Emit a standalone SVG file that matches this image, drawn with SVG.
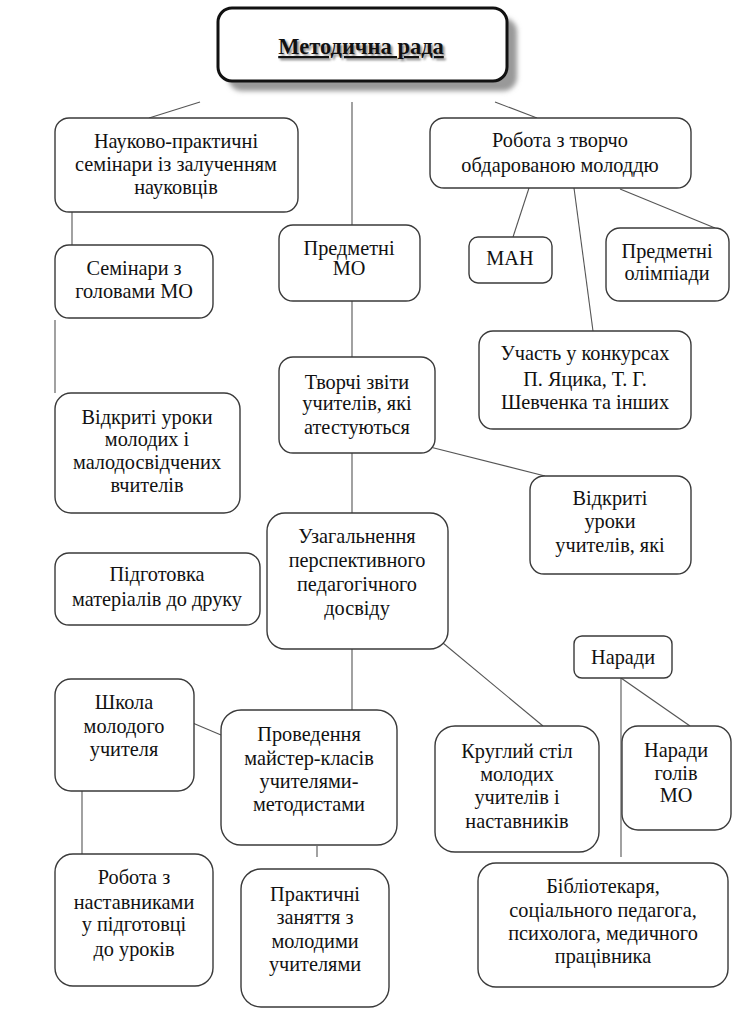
<svg xmlns="http://www.w3.org/2000/svg" width="750" height="1018" viewBox="0 0 750 1018">
<defs>
<filter id="blur" x="-10%" y="-10%" width="130%" height="140%"><feGaussianBlur stdDeviation="2.5"/></filter>
<filter id="tblur" x="-10%" y="-30%" width="120%" height="160%"><feGaussianBlur stdDeviation="0.8"/></filter>
</defs>
<style>
.b{fill:#fff;stroke:#3a3a3a;stroke-width:1.4}
.t{font-family:'Liberation Serif','Times New Roman','DejaVu Serif',serif;font-size:20.3px;fill:#111;text-anchor:middle}
.h{font-family:'Liberation Serif','Times New Roman','DejaVu Serif',serif;font-size:22.5px;font-weight:bold;text-anchor:middle;text-decoration:underline}
.c line{stroke:#555;stroke-width:1.1}
</style>
<rect width="750" height="1018" fill="#fff"/>
<g class="c" id="connectors">
<line x1="200" y1="102" x2="149" y2="118"/>
<line x1="352" y1="102" x2="352" y2="225"/>
<line x1="495" y1="102" x2="537" y2="118"/>
<line x1="72" y1="212" x2="72" y2="245"/>
<line x1="55" y1="320" x2="55" y2="393"/>
<line x1="529" y1="188" x2="513" y2="237"/>
<line x1="574" y1="188" x2="593" y2="331"/>
<line x1="620" y1="189" x2="715" y2="228"/>
<line x1="352" y1="301" x2="352" y2="357"/>
<line x1="352" y1="453" x2="352" y2="513"/>
<line x1="430" y1="447" x2="545" y2="476"/>
<line x1="352" y1="649" x2="352" y2="710"/>
<line x1="443" y1="643" x2="543" y2="726"/>
<line x1="162" y1="710" x2="221" y2="735"/>
<line x1="82" y1="791" x2="82" y2="854"/>
<line x1="317" y1="846" x2="317" y2="857"/>
<line x1="621" y1="678" x2="621" y2="857"/>
<line x1="621" y1="678" x2="690" y2="726"/>
</g>
<g id="n-metod">
<rect x="228" y="18" width="289" height="73" rx="14" fill="#999" filter="url(#blur)"/>
<rect x="218" y="8" width="289" height="73" rx="14" fill="#fff" stroke="#111" stroke-width="3"/>
<text class="h" x="363" y="56" fill="#888" filter="url(#tblur)">Методична рада</text>
<text class="h" x="361" y="54" fill="#111">Методична рада</text>
</g>
<g id="n-naukovo">
<rect class="b" x="55" y="118" width="243" height="94" rx="14"/>
<text class="t" x="176" y="148">Науково-практичні</text>
<text class="t" x="176" y="171">семінари із залученням</text>
<text class="t" x="176" y="194">науковців</text>
</g>
<g id="n-robota-tv">
<rect class="b" x="430" y="118" width="261" height="70" rx="14"/>
<text class="t" x="560" y="147">Робота з творчо</text>
<text class="t" x="560" y="172">обдарованою молоддю</text>
</g>
<g id="n-seminary">
<rect class="b" x="55" y="245" width="158" height="73" rx="14"/>
<text class="t" x="134" y="275">Семінари з</text>
<text class="t" x="134" y="298">головами МО</text>
</g>
<g id="n-predmetni-mo">
<rect class="b" x="279" y="225" width="141" height="76" rx="14"/>
<text class="t" x="349" y="255">Предметні</text>
<text class="t" x="349" y="275">МО</text>
</g>
<g id="n-man">
<rect class="b" x="469" y="237" width="83" height="46" rx="9"/>
<text class="t" x="510" y="265">МАН</text>
</g>
<g id="n-olimp">
<rect class="b" x="606" y="228" width="123" height="73" rx="14"/>
<text class="t" x="667" y="258">Предметні</text>
<text class="t" x="667" y="280">олімпіади</text>
</g>
<g id="n-uchast">
<rect class="b" x="479" y="331" width="212" height="98" rx="14"/>
<text class="t" x="585" y="360">Участь у конкурсах</text>
<text class="t" x="585" y="386">П. Яцика, Т. Г.</text>
<text class="t" x="585" y="409">Шевченка та інших</text>
</g>
<g id="n-tvorchi">
<rect class="b" x="279" y="357" width="156" height="96" rx="14"/>
<text class="t" x="357" y="389">Творчі звіти</text>
<text class="t" x="357" y="410">учителів, які</text>
<text class="t" x="357" y="434">атестуються</text>
</g>
<g id="n-vidkryti-mol">
<rect class="b" x="55" y="393" width="185" height="120" rx="16"/>
<text class="t" x="147" y="424">Відкриті уроки</text>
<text class="t" x="147" y="446">молодих і</text>
<text class="t" x="147" y="469">малодосвідчених</text>
<text class="t" x="147" y="492">вчителів</text>
</g>
<g id="n-vidkryti-uch">
<rect class="b" x="530" y="476" width="161" height="98" rx="14"/>
<text class="t" x="610" y="505">Відкриті</text>
<text class="t" x="610" y="528">уроки</text>
<text class="t" x="610" y="552">учителів, які</text>
</g>
<g id="n-uzag">
<rect class="b" x="267" y="513" width="181" height="136" rx="18"/>
<text class="t" x="357" y="543">Узагальнення</text>
<text class="t" x="357" y="567">перспективного</text>
<text class="t" x="357" y="591">педагогічного</text>
<text class="t" x="357" y="615">досвіду</text>
</g>
<g id="n-pidgot">
<rect class="b" x="55" y="553" width="205" height="72" rx="14"/>
<text class="t" x="157" y="581">Підготовка</text>
<text class="t" x="157" y="606">матеріалів  до друку</text>
</g>
<g id="n-narady">
<rect class="b" x="574" y="636" width="98" height="42" rx="8"/>
<text class="t" x="623" y="664">Наради</text>
</g>
<g id="n-shkola">
<rect class="b" x="55" y="679" width="139" height="112" rx="16"/>
<text class="t" x="124" y="709">Школа</text>
<text class="t" x="124" y="733">молодого</text>
<text class="t" x="124" y="756">учителя</text>
</g>
<g id="n-provedennya">
<rect class="b" x="221" y="710" width="176" height="135" rx="20"/>
<text class="t" x="309" y="741">Проведення</text>
<text class="t" x="309" y="765">майстер-класів</text>
<text class="t" x="309" y="788">учителями-</text>
<text class="t" x="309" y="811">методистами</text>
</g>
<g id="n-kruglyi">
<rect class="b" x="435" y="726" width="164" height="126" rx="20"/>
<text class="t" x="517" y="758">Круглий стіл</text>
<text class="t" x="517" y="781">молодих</text>
<text class="t" x="517" y="804">учителів і</text>
<text class="t" x="517" y="828">наставників</text>
</g>
<g id="n-narady-goliv">
<rect class="b" x="622" y="726" width="109" height="104" rx="16"/>
<text class="t" x="676" y="757">Наради</text>
<text class="t" x="676" y="780">голів</text>
<text class="t" x="676" y="802">МО</text>
</g>
<g id="n-robota-nast">
<rect class="b" x="55" y="854" width="158" height="132" rx="18"/>
<text class="t" x="134" y="884">Робота з</text>
<text class="t" x="134" y="909">наставниками</text>
<text class="t" x="134" y="931">у підготовці</text>
<text class="t" x="134" y="956">до уроків</text>
</g>
<g id="n-praktychni">
<rect class="b" x="241" y="869" width="148" height="138" rx="20"/>
<text class="t" x="315" y="901">Практичні</text>
<text class="t" x="315" y="924">заняття з</text>
<text class="t" x="315" y="948">молодими</text>
<text class="t" x="315" y="971">учителями</text>
</g>
<g id="n-bibl">
<rect class="b" x="478" y="863" width="250" height="124" rx="18"/>
<text class="t" x="603" y="893">Бібліотекаря,</text>
<text class="t" x="603" y="917">соціального педагога,</text>
<text class="t" x="603" y="940">психолога, медичного</text>
<text class="t" x="603" y="963">працівника</text>
</g>
</svg>
